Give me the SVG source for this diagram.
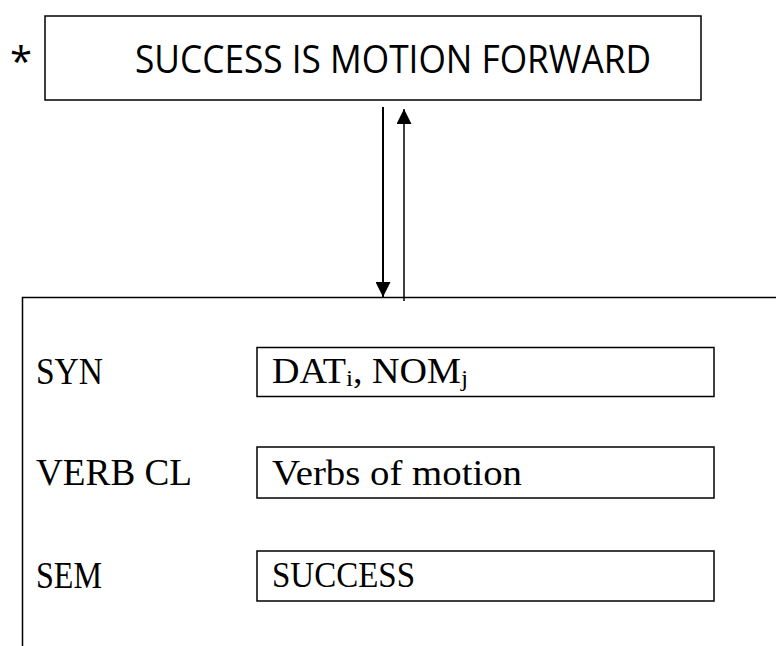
<svg xmlns="http://www.w3.org/2000/svg" width="776" height="646" viewBox="0 0 776 646">
<style>
.box{fill:none;stroke:#000;stroke-width:1.5}
.lbl{font-family:"Liberation Serif","Times New Roman",serif;font-size:38px;fill:#000}
.val{font-family:"Liberation Serif","Times New Roman",serif;font-size:36px;fill:#000}
.top{font-family:"Open Sans","Noto Sans",sans-serif;font-size:38px;fill:#000}
.ln{stroke:#000;fill:none}
</style>
<defs>
<marker id="ah" viewBox="0 0 10 10" refX="10" refY="5" markerWidth="15" markerHeight="15" markerUnits="userSpaceOnUse" orient="auto">
<path d="M0,0 L10,5 L0,10 Z" fill="#000"/>
</marker>
</defs>
<rect width="776" height="646" fill="#fff"/>
<g id="star"><text x="10" y="76" font-family="Open Sans, sans-serif" font-size="40">*</text></g>
<g id="top-box">
<rect class="box" x="45" y="16" width="656" height="84" stroke-width="2"/>
<text class="top" x="393" y="73" text-anchor="middle" textLength="516" lengthAdjust="spacingAndGlyphs">SUCCESS IS MOTION FORWARD</text>
</g>
<g id="connectors">
<line class="ln" x1="383" y1="107" x2="383" y2="297" stroke-width="2" marker-end="url(#ah)"/>
<line class="ln" x1="404" y1="301" x2="404" y2="109" stroke-width="1.5" marker-end="url(#ah)"/>
</g>
<g id="frame">
<path class="box" d="M776,297.5 H22.5 V646"/>
</g>
<g id="syn">
<text class="lbl" x="36" y="384" textLength="67" lengthAdjust="spacingAndGlyphs">SYN</text>
<rect class="box" x="257" y="347.5" width="457" height="49"/>
<text class="val" x="272" y="383" textLength="196" lengthAdjust="spacingAndGlyphs">DAT<tspan font-size="24" dy="3">i</tspan><tspan dy="-3">, NOM</tspan><tspan font-size="24" dy="3">j</tspan></text>
</g>
<g id="verbcl">
<text class="lbl" x="36" y="485" textLength="156" lengthAdjust="spacingAndGlyphs">VERB CL</text>
<rect class="box" x="257" y="447" width="457" height="51"/>
<text class="val" x="272" y="485" textLength="250" lengthAdjust="spacingAndGlyphs">Verbs of motion</text>
</g>
<g id="sem">
<text class="lbl" x="36" y="588" textLength="66" lengthAdjust="spacingAndGlyphs">SEM</text>
<rect class="box" x="257" y="551" width="457" height="50"/>
<text class="val" x="272" y="587" textLength="143" lengthAdjust="spacingAndGlyphs">SUCCESS</text>
</g>
</svg>
